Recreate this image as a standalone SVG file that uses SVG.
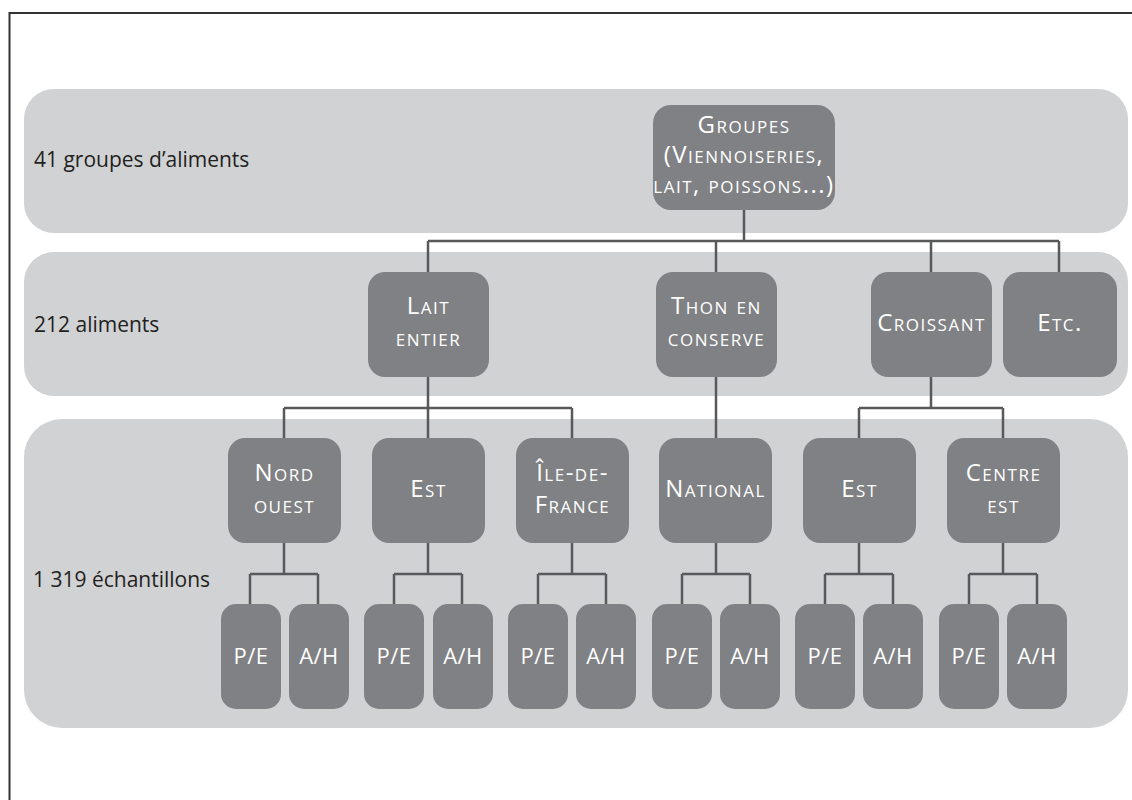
<svg xmlns="http://www.w3.org/2000/svg" width="1132" height="800" viewBox="0 0 1132 800">
<style>
.band{fill:#d1d2d4}
.node{fill:#808184}
.lbl{font-family:"Open Sans","Liberation Sans",sans-serif;font-size:24px;fill:#ffffff;text-anchor:middle;font-variant:small-caps;letter-spacing:1.5px}
.leaf{font-family:"Open Sans","Liberation Sans",sans-serif;font-size:22px;fill:#ffffff;text-anchor:middle;letter-spacing:0.5px}
.side{font-family:"Open Sans","Liberation Sans",sans-serif;font-size:21px;fill:#231f20}
.conn{fill:none;stroke:#58595b;stroke-width:2.5}
</style>
<rect x="0" y="0" width="1132" height="800" fill="#ffffff"/>
<rect x="9.5" y="13" width="1200" height="900" fill="none" stroke="#333333" stroke-width="2"/>
<g id="bands">
<rect class="band" x="24" y="89" width="1104" height="144" rx="30"/>
<rect class="band" x="24" y="252" width="1104" height="144" rx="30"/>
<rect class="band" x="24" y="419" width="1104" height="309" rx="38"/>
</g>
<g id="side-labels">
<text class="side" x="34" y="167">41 groupes d’aliments</text>
<text class="side" x="34" y="332">212 aliments</text>
<text class="side" x="33" y="587">1 319 échantillons</text>
</g>
<g id="connectors">
<path class="conn" d="M744 210V241M428 241H1059M428 241V272M716 241V272M931 241V272M1059 241V272"/>
<path class="conn" d="M428 377V408M284 408H572M284 408V438M428 408V438M572 408V438"/>
<path class="conn" d="M716 377V438"/>
<path class="conn" d="M931 377V408M859 408H1003M859 408V438M1003 408V438"/>
<path class="conn" d="M284 543V574M250 574H318M250 574V604M318 574V604"/>
<path class="conn" d="M428 543V574M394 574H462M394 574V604M462 574V604"/>
<path class="conn" d="M572 543V574M538 574H606M538 574V604M606 574V604"/>
<path class="conn" d="M716 543V574M682 574H750M682 574V604M750 574V604"/>
<path class="conn" d="M859 543V574M825 574H893M825 574V604M893 574V604"/>
<path class="conn" d="M1003 543V574M969 574H1037M969 574V604M1037 574V604"/>
</g>
<g id="n-groupes"><rect class="node" x="653" y="105" width="182" height="105" rx="18"/>
<text class="lbl" x="744" y="133">Groupes</text><text class="lbl" x="744" y="163">(Viennoiseries,</text><text class="lbl" x="744" y="193">lait, poissons...)</text></g>
<g id="n-lait"><rect class="node" x="368" y="272" width="121" height="105" rx="17"/>
<text class="lbl" x="428.5" y="314">Lait</text><text class="lbl" x="428.5" y="346">entier</text></g>
<g id="n-thon"><rect class="node" x="656" y="272" width="121" height="105" rx="17"/>
<text class="lbl" x="716.5" y="314">Thon en</text><text class="lbl" x="716.5" y="346">conserve</text></g>
<g id="n-croissant"><rect class="node" x="871" y="272" width="121" height="105" rx="17"/>
<text class="lbl" x="931.5" y="331">Croissant</text></g>
<g id="n-etc"><rect class="node" x="1003" y="272" width="114" height="105" rx="17"/>
<text class="lbl" x="1060" y="331">Etc.</text></g>
<g id="n-nordouest"><rect class="node" x="228" y="438" width="113" height="105" rx="17"/>
<text class="lbl" x="284.5" y="481">Nord</text><text class="lbl" x="284.5" y="513">ouest</text></g>
<g id="n-est1"><rect class="node" x="372" y="438" width="113" height="105" rx="17"/>
<text class="lbl" x="428.5" y="497">Est</text></g>
<g id="n-idf"><rect class="node" x="516" y="438" width="113" height="105" rx="17"/>
<text class="lbl" x="572.5" y="481">Île-de-</text><text class="lbl" x="572.5" y="513">France</text></g>
<g id="n-national"><rect class="node" x="659" y="438" width="113" height="105" rx="17"/>
<text class="lbl" x="715.5" y="497">National</text></g>
<g id="n-est2"><rect class="node" x="803" y="438" width="113" height="105" rx="17"/>
<text class="lbl" x="859.5" y="497">Est</text></g>
<g id="n-centreest"><rect class="node" x="947" y="438" width="113" height="105" rx="17"/>
<text class="lbl" x="1003.5" y="481">Centre</text><text class="lbl" x="1003.5" y="513">est</text></g>
<g id="leaf-1a"><rect class="node" x="221" y="604" width="60" height="105" rx="15"/><text class="leaf" x="251" y="664">P/E</text></g>
<g id="leaf-1b"><rect class="node" x="289" y="604" width="60" height="105" rx="15"/><text class="leaf" x="319" y="664">A/H</text></g>
<g id="leaf-2a"><rect class="node" x="364" y="604" width="60" height="105" rx="15"/><text class="leaf" x="394" y="664">P/E</text></g>
<g id="leaf-2b"><rect class="node" x="433" y="604" width="60" height="105" rx="15"/><text class="leaf" x="463" y="664">A/H</text></g>
<g id="leaf-3a"><rect class="node" x="508" y="604" width="60" height="105" rx="15"/><text class="leaf" x="538" y="664">P/E</text></g>
<g id="leaf-3b"><rect class="node" x="576" y="604" width="60" height="105" rx="15"/><text class="leaf" x="606" y="664">A/H</text></g>
<g id="leaf-4a"><rect class="node" x="652" y="604" width="60" height="105" rx="15"/><text class="leaf" x="682" y="664">P/E</text></g>
<g id="leaf-4b"><rect class="node" x="720" y="604" width="60" height="105" rx="15"/><text class="leaf" x="750" y="664">A/H</text></g>
<g id="leaf-5a"><rect class="node" x="795" y="604" width="60" height="105" rx="15"/><text class="leaf" x="825" y="664">P/E</text></g>
<g id="leaf-5b"><rect class="node" x="863" y="604" width="60" height="105" rx="15"/><text class="leaf" x="893" y="664">A/H</text></g>
<g id="leaf-6a"><rect class="node" x="939" y="604" width="60" height="105" rx="15"/><text class="leaf" x="969" y="664">P/E</text></g>
<g id="leaf-6b"><rect class="node" x="1007" y="604" width="60" height="105" rx="15"/><text class="leaf" x="1037" y="664">A/H</text></g>
</svg>
